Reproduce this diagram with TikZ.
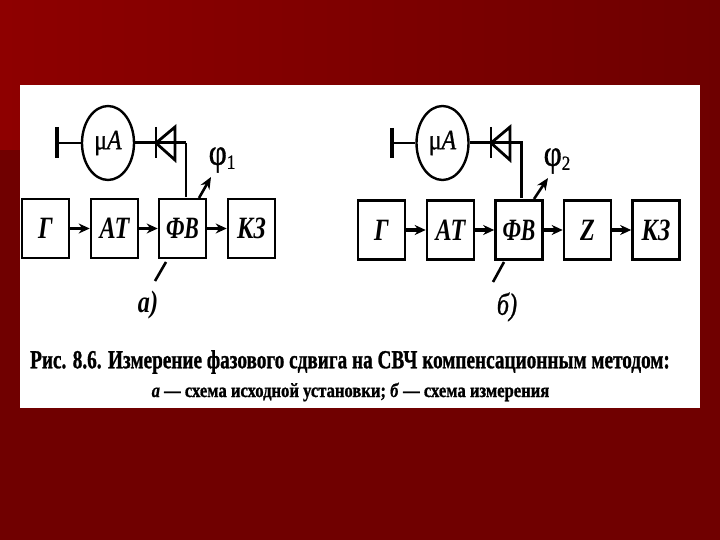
\documentclass[tikz,border=0pt]{standalone}
\usepackage{fontspec}
\usepackage{graphicx}
\setmainfont{Liberation Serif}
\newfontfamily\heavyfont[BoldFeatures={FakeBold=1.2},BoldItalicFeatures={FakeBold=0.8}]{Liberation Serif}
\newfontfamily\semifont[FakeBold=1]{Liberation Serif}
\usetikzlibrary{shapes.geometric,arrows.meta}
\definecolor{bgL}{HTML}{8E0000}
\definecolor{bgR}{HTML}{6E0000}
\definecolor{bgLow}{HTML}{700000}
\newcommand{\boxlab}[1]{\scalebox{0.78}[1]{\fontsize{31}{31}\selectfont\bfseries\itshape #1}}
\newcommand{\boxlabnarrow}[1]{\scalebox{0.70}[1]{\fontsize{31}{31}\selectfont\bfseries\itshape #1}}
\newcommand{\meterlab}{\scalebox{0.85}[1]{\fontsize{28}{28}\semifont\selectfont μ\textit{A}}}
\newcommand{\philab}[1]{\scalebox{0.85}[1]{\fontsize{37}{37}\semifont\selectfont φ\raisebox{-4pt}{\fontsize{20}{20}\selectfont #1}}}
\newcommand{\caplab}{\scalebox{0.74}[1]{\fontsize{26}{26}\heavyfont\selectfont\bfseries Рис. 8.6. Измерение фазового сдвига на СВЧ компенсационным методом:}}
\newcommand{\subcap}{\scalebox{0.83}[1]{\fontsize{20}{20}\heavyfont\selectfont\bfseries\textit{а} — схема исходной установки; \textit{б} — схема измерения}}
\tikzset{
  x=1pt,y=-1pt,
  block/.style={draw=black,line width=2.6pt,fill=white,minimum width=47pt,minimum height=59pt,inner sep=0pt},
  meter/.style={draw=black,line width=2.4pt,ellipse,minimum width=52pt,minimum height=74pt,inner sep=0pt},
  flow/.style={line width=3pt,-{Stealth[length=11pt,width=10pt]}},
  wirethick/.style={line width=3pt},
  wirethin/.style={line width=1.6pt},
  barstyle/.style={line width=4pt},
  diodestyle/.style={line width=2.8pt,line join=miter},
  adjust/.style={line width=2.6pt},
  adjustarrow/.style={line width=2.6pt,-{Stealth[length=12pt,width=10pt]}},
  freetext/.style={inner sep=0pt}
}
\begin{document}
\begin{tikzpicture}
\useasboundingbox (0,0) rectangle (720,540);
% background
\fill[bgLow] (0,0) rectangle (720,540);
\shade[left color=bgL,right color=bgR] (0,0) rectangle (720,150);
\fill[white] (20,85) rectangle (700,408);
% scheme a
\node[block] (g1) at (45.5,228.5) {\boxlab{Г}};
\node[block] (at1) at (114.5,228.5) {\boxlab{АТ}};
\node[block] (fv1) at (182.5,228.5) {\boxlabnarrow{ФВ}};
\node[block] (kz1) at (251.5,228.5) {\boxlab{КЗ}};
\draw[flow] (g1) -- (at1);
\draw[flow] (at1) -- (fv1);
\draw[flow] (fv1) -- (kz1);
\node[meter] (m1) at (108,143) {\meterlab};
\coordinate (b1t) at (57,127);
\coordinate (b1b) at (57,158);
\coordinate (b1m) at (57,143);
\coordinate (d1l) at (156,143);
\coordinate (d1rt) at (175,127);
\coordinate (d1rb) at (175,160);
\coordinate (d1bt) at (156,127);
\coordinate (d1bb) at (156,158);
\coordinate (w1) at (186,143);
\coordinate (w1b) at (186,197);
\draw[barstyle] (b1t) -- (b1b);
\draw[wirethin] (b1m) -- (m1.west);
\draw[wirethick] (m1.east) -- (d1l);
\draw[diodestyle] (d1bt) -- (d1bb);
\draw[diodestyle] (d1rt) -- (d1l) -- (d1rb) -- cycle;
\draw[wirethick] (d1l) -- (w1);
\draw[wirethin] (w1) -- (w1b);
\coordinate (p1a) at (199,198);
\coordinate (p1b) at (211,177);
\draw[adjustarrow] (p1a) -- (p1b);
\node[freetext] (phi1) at (222,160) {\philab{1}};
\coordinate (q1a) at (166,262);
\coordinate (q1b) at (155,281);
\draw[adjust] (q1a) -- (q1b);
\node[freetext] (la) at (148,305) {\boxlab{а)}};
% scheme b
\node[block] (g2) at (381.5,230) {\boxlab{Г}};
\node[block] (at2) at (450.5,230) {\boxlab{АТ}};
\node[block] (fv2) at (519,230) {\boxlabnarrow{ФВ}};
\node[block] (z2) at (587.5,230) {\boxlab{Z}};
\node[block] (kz2) at (656,230) {\boxlab{КЗ}};
\draw[flow] (g2) -- (at2);
\draw[flow] (at2) -- (fv2);
\draw[flow] (fv2) -- (z2);
\draw[flow] (z2) -- (kz2);
\node[meter] (m2) at (442.5,143) {\meterlab};
\coordinate (b2t) at (392,128);
\coordinate (b2b) at (392,158);
\coordinate (b2m) at (392,143);
\coordinate (d2l) at (491,143);
\coordinate (d2rt) at (510,127);
\coordinate (d2rb) at (510,160);
\coordinate (d2bt) at (491,127);
\coordinate (d2bb) at (491,158);
\coordinate (w2) at (521,143);
\coordinate (w2b) at (521,198);
\draw[barstyle] (b2t) -- (b2b);
\draw[wirethin] (b2m) -- (m2.west);
\draw[wirethick] (m2.east) -- (d2l);
\draw[diodestyle] (d2bt) -- (d2bb);
\draw[diodestyle] (d2rt) -- (d2l) -- (d2rb) -- cycle;
\draw[wirethick] (d2l) -- (w2) -- (w2b);
\coordinate (p2a) at (534,199);
\coordinate (p2b) at (548,178);
\draw[adjustarrow] (p2a) -- (p2b);
\node[freetext] (phi2) at (557,161) {\philab{2}};
\coordinate (q2a) at (504,262);
\coordinate (q2b) at (493,282);
\draw[adjust] (q2a) -- (q2b);
\node[freetext] (lb) at (507,307) {\scalebox{0.78}[1]{\fontsize{31}{31}\semifont\selectfont\itshape б)}};
% caption
\node[freetext] (c1) at (350,362) {\caplab};
\node[freetext] (c2) at (350.5,392) {\subcap};
\end{tikzpicture}
\end{document}
